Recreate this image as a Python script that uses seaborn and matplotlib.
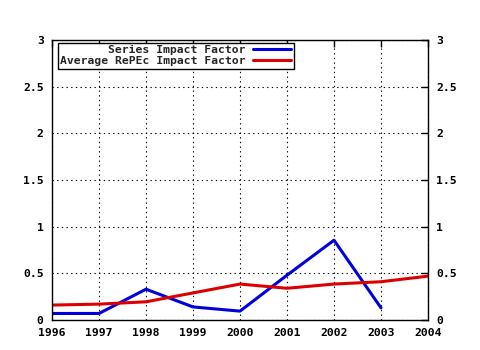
import matplotlib
matplotlib.use("Agg")
import matplotlib.pyplot as plt
import seaborn as sns
import pandas as pd

years = [1996, 1997, 1998, 1999, 2000, 2001, 2002, 2003, 2004]
series_years = [1996, 1997, 1998, 1999, 2000, 2001, 2002, 2003]
series_if = [0.07, 0.07, 0.33, 0.14, 0.095, 0.48, 0.855, 0.13]
avg_if = [0.16, 0.17, 0.195, 0.29, 0.385, 0.34, 0.385, 0.41, 0.47]
labels = ["Series Impact Factor", "Average RePEc Impact Factor"]
yticks = [0, 0.5, 1, 1.5, 2, 2.5, 3]
ytick_labels = ["0", "0.5", "1", "1.5", "2", "2.5", "3"]

sns.set_style("white")
plt.rcParams['font.family'] = ['DejaVu Sans Mono']
plt.rcParams['font.weight'] = 'bold'

df1 = pd.DataFrame({"year": series_years, "v": series_if})
df2 = pd.DataFrame({"year": years, "v": avg_if})

fig = plt.figure(figsize=(4.8, 3.5), dpi=100)
ax = fig.add_axes([52/480, 1-320/350, 376/480, 280/350])
sns.lineplot(data=df1, x="year", y="v", ax=ax, color="#0000dd", lw=2.2, label=labels[0])
sns.lineplot(data=df2, x="year", y="v", ax=ax, color="#dd0000", lw=2.2, label=labels[1])

ax.set_xlim(1996, 2004)
ax.set_ylim(0, 3)
ax.set_xticks(years)
ax.set_xticklabels([str(y) for y in years], fontsize=8.2, fontweight='bold')
ax.set_yticks(yticks)
ax.set_yticklabels(ytick_labels, fontsize=8.2, fontweight='bold')
ax.set_xlabel("")
ax.set_ylabel("")
ax.grid(True, color="black", linestyle=(0, (1.2, 3)), lw=0.8)
for s in ax.spines.values():
    s.set_color("black")
    s.set_linewidth(1)
ax.tick_params(axis='both', direction='in', length=5, width=1, colors='black',
               top=True, right=True, labelright=True, pad=6)

leg = ax.legend(loc="upper left", bbox_to_anchor=(0.016, 0.99), markerfirst=False,
                frameon=True, fancybox=False, edgecolor="black", framealpha=1,
                prop={'family': 'DejaVu Sans Mono', 'weight': 'bold', 'size': 8.2},
                handlelength=3.4, borderpad=0.2, labelspacing=0.1, borderaxespad=0,
                handletextpad=0.6)
leg.get_frame().set_linewidth(1)
for t in leg.get_texts():
    t.set_ha('right')
leg._legend_box.align = "right"

fig.savefig("out.png", dpi=100)
